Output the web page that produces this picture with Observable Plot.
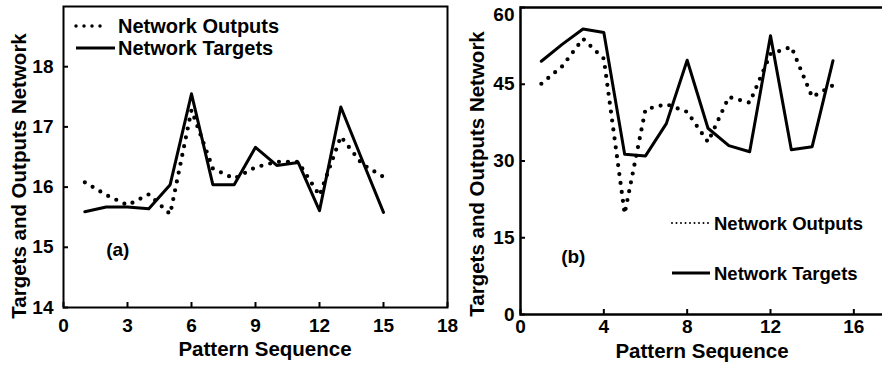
<!DOCTYPE html>
<html><head><meta charset="utf-8">
<script src="https://cdn.jsdelivr.net/npm/d3@7"></script>
<script src="https://cdn.jsdelivr.net/npm/@observablehq/plot@0.6"></script>
<style>
html,body{margin:0;padding:0;background:#fff;}
body{width:882px;height:367px;overflow:hidden;position:relative;font-family:"Liberation Sans",Arial,sans-serif;}
#a{position:absolute;left:0;top:0;}
#b{position:absolute;left:440px;top:0;}
svg{max-width:none !important;display:block;overflow:visible;}
</style></head><body><div id="a"></div><div id="b"></div>
<script>
const patterns = [1,2,3,4,5,6,7,8,9,10,11,12,13,14,15];
const aTargets = [15.59,15.67,15.67,15.64,16.04,17.55,16.04,16.04,16.66,16.36,16.41,15.61,17.33,16.45,15.58];
const aOutputs = [16.08,15.87,15.70,15.88,15.55,17.28,16.31,16.14,16.33,16.42,16.42,15.86,16.84,16.38,16.17];
const bTargets = [49.5,52.8,55.8,55.1,31.3,31.0,37.3,49.7,36.4,33.0,31.8,54.5,32.2,32.8,49.6];
const bOutputs = [45.1,48.5,53.9,50.0,19.7,40.1,41.1,39.6,33.7,42.5,41.4,50.9,52.3,42.5,44.8];
const aXTicks = [0,3,6,9,12,15,18];
const aYTicks = [14,15,16,17,18];
const bXTicks = [0,4,8,12,16];
const bYTicks = [0,15,30,45,60];
const seriesNames = ["Network Outputs","Network Targets"];
const xLabel = "Pattern Sequence";
const yLabel = "Targets and Outputs Network";
const tags = ["(a)","(b)"];
const tagA = [{x: 2.0, y: 14.95}];
const tagB = [{x: 1.95, y: 11.3}];

const FONT = "'Liberation Sans', Arial, sans-serif";
function rows(ys){ return patterns.map((x,i)=>({x, y: ys[i]})); }

function panel(o) {
  const innerH = o.height - o.mt - o.mb;
  const innerW = o.width - o.ml - o.mr;
  const svg = Plot.plot({
    width: o.width, height: o.height,
    marginLeft: o.ml, marginRight: o.mr, marginTop: o.mt, marginBottom: o.mb,
    style: {background: "transparent", fontFamily: FONT, fontWeight: "bold", fontSize: "19px", color: "black", overflow: "visible"},
    x: {domain: o.xDomain},
    y: {domain: o.yDomain},
    marks: [
      Plot.frame({stroke: "black", strokeWidth: o.frameW}),
      Plot.ruleX(o.xTicks, {x: d => d, insetTop: innerH - 5, stroke: "black", strokeWidth: 2}),
      Plot.ruleY(o.yTicks, {y: d => d, insetRight: innerW - 5, stroke: "black", strokeWidth: 2}),
      Plot.axisX(o.xTicks, {tickSize: 0, tickPadding: o.xPad, tickFormat: d => String(d), fontSize: 19, fontWeight: "bold", label: null, fill: "black"}),
      Plot.axisY(o.yTicks, {tickSize: 0, tickPadding: o.yPad, tickFormat: d => String(d), fontSize: 19, fontWeight: "bold", label: null, fill: "black"}),
      Plot.line(rows(o.outputs), {x: "x", y: "y", stroke: "black", strokeWidth: 4.2, strokeDasharray: "0 9", strokeLinecap: "round"}),
      Plot.line(rows(o.targets), {x: "x", y: "y", stroke: "black", strokeWidth: 3}),
      Plot.text(o.tagPos, {x: "x", y: "y", text: () => o.tag, textAnchor: "start", lineAnchor: "middle", fontSize: 19, fontWeight: "bold", fill: "black"})
    ]
  });
  const s = d3.select(svg);
  if (o.shiftTop != null) {
    s.selectAll("text").filter(function() { return this.textContent === o.shiftTop; }).attr("dy", 7);
  }
  s.append("text").attr("transform", `translate(${o.yl[0]},${o.yl[1]}) rotate(-90)`)
    .attr("text-anchor", "middle").attr("dominant-baseline", "central")
    .attr("font-size", 20.5).attr("font-weight", "bold").attr("font-family", FONT).attr("fill", "black").text(yLabel);
  s.append("text").attr("x", o.xl[0]).attr("y", o.xl[1])
    .attr("text-anchor", "middle")
    .attr("font-size", 20.5).attr("font-weight", "bold").attr("font-family", FONT).attr("fill", "black").text(xLabel);
  const L = o.legend;
  const g = s.append("g");
  g.append("line").attr("x1", L.x1).attr("x2", L.x2d).attr("y1", L.y1).attr("y2", L.y1)
    .attr("stroke", "black").attr("stroke-width", L.dotW).attr("stroke-dasharray", L.dash).attr("stroke-linecap", "round");
  g.append("line").attr("x1", L.x1).attr("x2", L.x2s).attr("y1", L.y2).attr("y2", L.y2)
    .attr("stroke", "black").attr("stroke-width", 3);
  [[seriesNames[0], L.y1], [seriesNames[1], L.y2]].forEach(([t, y]) => {
    g.append("text").attr("x", L.tx).attr("y", y).attr("text-anchor", "start").attr("dominant-baseline", "central")
      .attr("font-size", L.fs).attr("font-weight", "bold").attr("font-family", FONT).attr("fill", "black").text(t);
  });
  return svg;
}

document.getElementById("a").append(panel({
  targets: aTargets, outputs: aOutputs, xDomain: [0, 18], yDomain: [14, 19],
  xTicks: aXTicks, yTicks: aYTicks, width: 450, height: 367, ml: 63, mr: 3, mt: 6, mb: 60,
  frameW: 2, xPad: 11, yPad: 10, tag: tags[0], tagPos: tagA,
  yl: [18, 176], xl: [265, 356],
  legend: {x1: 76, x2d: 108, x2s: 115, y1: 26, y2: 48, tx: 118, fs: 20, dotW: 3.5, dash: "0 8"}
}));
document.getElementById("b").append(panel({
  targets: bTargets, outputs: bOutputs, xDomain: [0, 18], yDomain: [0, 60],
  xTicks: bXTicks, yTicks: bYTicks, width: 460, height: 367, ml: 80, mr: 5, mt: 7, mb: 53,
  frameW: 2.5, xPad: 5, yPad: 6, tag: tags[1], tagPos: tagB, shiftTop: "60",
  yl: [36, 174], xl: [262, 358],
  legend: {x1: 232, x2d: 270, x2s: 270, y1: 223, y2: 273, tx: 274, fs: 18.5, dotW: 2, dash: "0 4.5"}
}));
</script></body></html>
